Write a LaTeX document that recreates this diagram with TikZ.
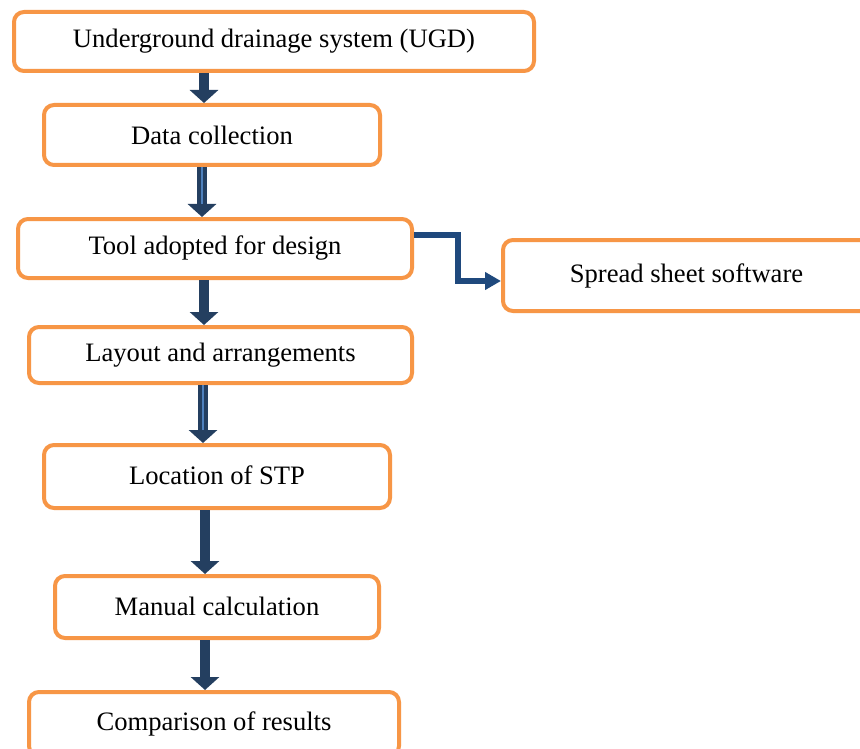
\documentclass[tikz,border=0pt]{standalone}
\usepackage{fontspec}
\setmainfont{Liberation Serif}
\usetikzlibrary{arrows.meta}
\definecolor{boxorange}{HTML}{F79646}
\definecolor{navy}{HTML}{243F60}
\definecolor{elbowblue}{HTML}{1F497D}
\definecolor{stripe}{HTML}{4F81BD}
\begin{document}
\begin{tikzpicture}[x=1pt,y=-1pt,
  flowbox/.style={draw=boxorange, line width=4pt, rounded corners=10pt, fill=white,
    inner sep=0pt, font=\fontsize{26.6}{30}\selectfont, align=center},
  flow/.style={draw=navy, line width=10pt, -{Triangle[width=28pt,length=13pt]}},
  stripeline/.style={draw=stripe, line width=1.5pt},
  elbow/.style={draw=elbowblue, line width=6pt, -{Triangle[width=17pt,length=16pt]}}]
\useasboundingbox (0,0) rectangle (860,749);
\clip (0,0) rectangle (860,749);
\fill[white] (0,0) rectangle (860,749);

\node[flowbox, minimum width=520pt, minimum height=59pt] (b1) at (274,41.5) {\raisebox{-2pt}{Underground drainage system (UGD)}};
\node[flowbox, minimum width=336pt, minimum height=60pt] (b2) at (212,135) {Data collection};
\node[flowbox, minimum width=394pt, minimum height=59pt] (b3) at (215,248.5) {\raisebox{-1pt}{Tool adopted for design}};
\node[flowbox, minimum width=367pt, minimum height=71pt] (b4) at (686.5,275.5) {\raisebox{5pt}{Spread sheet software}};
\node[flowbox, minimum width=383pt, minimum height=56pt] (b5) at (220.5,355) {Layout and arrangements};
\node[flowbox, minimum width=346pt, minimum height=63pt] (b6) at (217,476.5) {\raisebox{2pt}{Location of STP}};
\node[flowbox, minimum width=324pt, minimum height=62pt] (b7) at (217,607) {\raisebox{2pt}{Manual calculation}};
\node[flowbox, minimum width=370pt, minimum height=64pt] (b8) at (214,724) {\raisebox{5pt}{Comparison of results}};

\coordinate (a1) at (204,0);
\coordinate (a2) at (202,0);
\coordinate (a3) at (204,0);
\coordinate (a4) at (203,0);
\coordinate (a5) at (205,0);
\coordinate (a6) at (205,0);

\draw[flow] (b1.south -| a1) -- (b2.north -| a1);
\draw[flow] (b2.south -| a2) -- (b3.north -| a2);
\draw[stripeline] (b2.south -| a2) -- ([yshift=13pt]b3.north -| a2);
\draw[flow] (b3.south -| a3) -- (b5.north -| a3);
\draw[flow] (b5.south -| a4) -- (b6.north -| a4);
\draw[stripeline] (b5.south -| a4) -- ([yshift=13pt]b6.north -| a4);
\draw[flow] (b6.south -| a5) -- (b7.north -| a5);
\draw[flow] (b7.south -| a6) -- (b8.north -| a6);

\coordinate (k0) at (0,235);
\coordinate (k1) at (458,235);
\coordinate (k2) at (458,281);
\draw[elbow] (b3.east |- k0) -- (k1) -- (k2) -- (b4.west |- k2);
\end{tikzpicture}
\end{document}
